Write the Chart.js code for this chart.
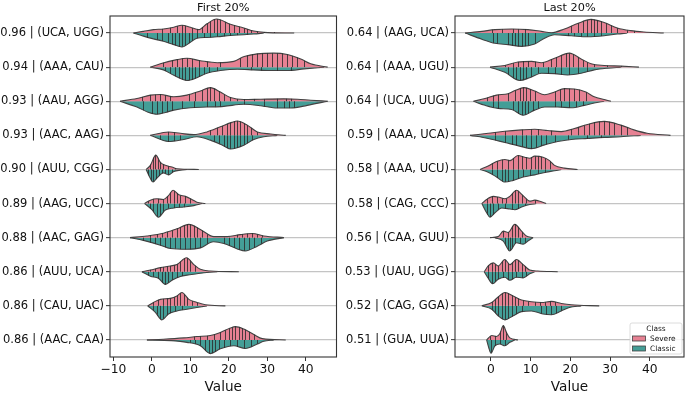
<!DOCTYPE html>
<html>
<head>
<meta charset="utf-8">
<script src="https://cdn.jsdelivr.net/npm/chart.js@4.4.0/dist/chart.umd.min.js"></script>
<style>
  html, body { margin: 0; padding: 0; background: #fff; }
  #wrap { position: relative; width: 685px; height: 394px; overflow: hidden; }
  canvas { position: absolute; top: 0; }
</style>
</head>
<body>
<div id="wrap">
  <canvas id="first" width="340" height="394" style="left:0"></canvas>
  <canvas id="last" width="345" height="394" style="left:340px"></canvas>
</div>
<script>
// row labels (top to bottom)
const firstLabels = ['0.96 | (UCA, UGG)', '0.94 | (AAA, CAU)', '0.93 | (AAU, AGG)', '0.93 | (AAC, AAG)', '0.90 | (AUU, CGG)',
  '0.89 | (AAG, UCC)', '0.88 | (AAC, GAG)', '0.86 | (AUU, UCA)', '0.86 | (CAU, UAC)', '0.86 | (AAC, CAA)'];
const lastLabels = ['0.64 | (AAG, UCA)', '0.64 | (AAA, UGU)', '0.64 | (UCA, UUG)', '0.59 | (AAA, UCA)', '0.58 | (AAA, UCU)',
  '0.58 | (CAG, CCC)', '0.56 | (CAA, GUU)', '0.53 | (UAU, UGG)', '0.52 | (CAG, GGA)', '0.51 | (GUA, UUA)'];

const firstTicks = [-10, 0, 10, 20, 30, 40];
const lastTicks = [0, 10, 20, 30, 40];

// half-violin outlines: [value, half width in row units]
const firstSevere = [
  [[-4.8,0],[-2.2,.05],[0.4,.1],[3,.12],[5.7,.17],[7.8,.23],[10,.17],[12.2,.1],[14.3,.27],[16.8,.41],[20.4,.26],[23.9,.15],[26.5,.06],[29.1,.02],[37,0]],
  [[-0.4,0],[2.2,.1],[6.5,.22],[9.1,.26],[12.6,.19],[17,.13],[21.3,.17],[24,.31],[27.4,.39],[31.7,.41],[35.2,.37],[38.7,.24],[41.3,.1],[45.7,0]],
  [[-8.3,0],[-3.9,.08],[-0.4,.18],[2.2,.2],[5.7,.13],[9.1,.18],[12.6,.3],[15.2,.4],[17.8,.27],[20.4,.11],[23.9,.05],[28.3,.06],[34.3,.07],[37.8,.06],[41.3,.03],[45.7,0]],
  [[-0.4,0],[4.3,.1],[7.4,.06],[10.9,.02],[14.3,.1],[17.8,.25],[20.8,.38],[22.2,.42],[24.8,.3],[27.4,.1],[30.9,.04],[34.8,0]],
  [[-1.5,0],[-0.4,.12],[1,.42],[2.2,.21],[3.5,.12],[5.2,.07],[6.5,.02],[12.2,0]],
  [[-1.9,0],[-0.4,.1],[1.3,.14],[3,.12],[4.3,.23],[5.5,.39],[7,.26],[8.7,.21],[10.4,.12],[11.7,.04],[13.9,0]],
  [[-5.7,0],[-1.3,.05],[3,.13],[6.5,.26],[9.6,.39],[12.6,.24],[16.1,.03],[19.6,.03],[23,.09],[26.1,.12],[29.1,.05],[34.3,0]],
  [[-2.6,0],[-0.4,.05],[2.2,.12],[4.8,.17],[6.5,.21],[9,.41],[10.9,.21],[12.6,.07],[15.2,.02],[22.6,0]],
  [[-1.1,0],[0.4,.1],[2.2,.19],[4.8,.22],[6.5,.29],[7.8,.39],[9.6,.19],[11.7,.1],[13.9,.03],[19.1,0]],
  [[-1.3,0],[3,.02],[8.3,.06],[11.7,.1],[15.2,.13],[17.8,.22],[20.4,.35],[21.7,.39],[23.9,.32],[26.5,.16],[28.7,.04],[34.8,0]]
];
const firstClassic = [
  [[-4.8,0],[-2.2,.09],[0.4,.17],[3,.24],[5.7,.34],[7.8,.41],[10,.27],[11.7,.15],[14.3,.13],[17,.11],[20.4,.07],[23.9,.05],[26.5,.03],[29.1,0]],
  [[-0.4,0],[3,.08],[5.7,.24],[9.1,.39],[11.7,.31],[14.3,.18],[17.8,.1],[22.2,.06],[26.5,.08],[30.9,.1],[35.2,.1],[39.6,.05],[44.8,0]],
  [[-8.3,0],[-3.9,.17],[-1,.32],[1.3,.38],[3.5,.33],[5.7,.26],[10,.19],[14.3,.17],[18.7,.15],[23.9,.09],[28.3,.13],[32.6,.2],[36.1,.2],[40.4,.12],[45.7,0]],
  [[-0.4,0],[4.3,.18],[8.3,.12],[11.7,.04],[15.2,.14],[18.7,.31],[20.5,.4],[23.9,.29],[26.5,.12],[29.1,.04],[32.6,0]],
  [[-1.5,0],[-0.6,.22],[0.3,.37],[1.3,.25],[3,.1],[4.3,.16],[5.7,.06],[7.4,.02],[9.1,0]],
  [[-1.9,0],[0,.18],[1.7,.4],[3.5,.19],[5.7,.13],[8.3,.1],[10.9,.06],[13,0]],
  [[-5.7,0],[-2.2,.08],[2.2,.22],[4.8,.32],[9.1,.34],[12.6,.3],[16,.12],[18.7,.17],[22.2,.33],[24.3,.39],[27.4,.25],[30,.1],[34.3,0]],
  [[-2.6,0],[-0.4,.13],[1.7,.19],[3.5,.37],[5.2,.25],[7.4,.14],[9.1,.1],[11.7,.06],[14.3,.02],[17,0]],
  [[-1.1,0],[0.9,.19],[2.6,.41],[4.3,.24],[6.5,.15],[9.1,.1],[11.7,.05],[14.3,0]],
  [[-1.3,0],[5,.02],[9.1,.07],[12.6,.17],[15.2,.4],[17.8,.26],[21.3,.17],[24.3,.25],[27.4,.12],[29.1,.04],[31.7,0]]
];
const lastSevere = [
  [[-6.5,0],[-2.3,.05],[1,.1],[5.2,.12],[9.3,.1],[12.7,.05],[15.2,.01],[18.5,.12],[21.8,.28],[25.2,.4],[28.5,.31],[31.8,.15],[35.2,.07],[38.5,.03],[43.5,0]],
  [[-0.25,0],[3.5,.05],[6.8,.15],[10.2,.17],[12.7,.13],[16,.26],[19.75,.41],[22.7,.24],[25.2,.1],[28.5,.05],[32.7,.03],[37.25,0]],
  [[-4.4,0],[-1.5,.08],[1.4,.18],[4.3,.22],[6.2,.32],[8.3,.4],[11,.3],[13.5,.19],[16,.27],[18.5,.37],[21,.36],[23.9,.27],[26,.13],[28.5,.05],[30.2,0]],
  [[-5.25,0],[-0.7,.06],[3.5,.12],[7.7,.16],[11,.18],[14.3,.14],[17.7,.11],[21,.2],[24.3,.32],[28.5,.41],[32.7,.3],[36,.16],[39.3,.06],[45.2,0]],
  [[-2.75,0],[-0.7,.1],[1.4,.23],[3.5,.29],[4.75,.26],[6.8,.41],[8.5,.36],[9.75,.33],[11,.39],[13.1,.36],[14.75,.26],[16,.12],[18.5,.04],[21.8,0]],
  [[-2.3,0],[-1.1,.12],[0.6,.21],[1.8,.19],[3.5,.14],[4.75,.21],[6.4,.39],[8.1,.23],[9.75,.07],[11,.1],[12.7,.05],[13.9,0]],
  [[-0.25,0],[1.8,.03],[3.1,.19],[4.3,.15],[6,.39],[7.7,.19],[8.9,.05],[10.6,0]],
  [[-1.7,0],[-0.7,.17],[0.6,.26],[1.8,.17],[3.5,.36],[4.75,.21],[6.4,.36],[8.1,.21],[9.75,.05],[11.8,.02],[16.8,0]],
  [[-2.3,0],[0.2,.1],[1.8,.26],[3.5,.39],[5.6,.29],[7.7,.17],[10.2,.12],[12.7,.1],[15.2,.13],[17.7,.07],[20.2,.03],[27.25,0]],
  [[-1.1,0],[0.2,.13],[1.4,.1],[2.25,.19],[3.1,.42],[3.9,.22],[4.75,.06],[6.8,0]]
];
const lastClassic = [
  [[-6.5,0],[-2.3,.18],[1,.3],[4.3,.34],[7.7,.39],[11,.32],[13.5,.15],[16,.05],[20.2,.08],[24.3,.11],[28.5,.08],[31.8,.03],[34.3,0]],
  [[-0.25,0],[3.5,.15],[7.25,.39],[9.75,.31],[12.7,.18],[16,.19],[19.3,.23],[22.7,.18],[26,.08],[29.3,.03],[32.7,0]],
  [[-4.4,0],[-1.5,.12],[1.8,.21],[5.2,.24],[8.1,.41],[11,.26],[13.5,.17],[16.8,.17],[20.2,.19],[23.5,.12],[26,.05],[28.5,0]],
  [[-5.25,0],[-0.7,.09],[3.5,.21],[7.7,.33],[10.2,.39],[13.5,.28],[16.8,.18],[20.2,.12],[24.3,.09],[28.5,.06],[32.7,.04],[37.7,0]],
  [[-2.75,0],[-0.7,.08],[1.4,.22],[3.5,.37],[5.6,.32],[8.1,.22],[11,.16],[13.9,.08],[16,.04],[17.7,0]],
  [[-2.3,0],[-1.1,.27],[-0.25,.4],[1,.27],[2.7,.13],[4.75,.16],[6,.18],[7.7,.1],[9.75,.03],[11.4,0]],
  [[1,0],[3.1,.1],[4.75,.39],[6.4,.15],[8.1,.19],[9.3,.1],[10.6,0]],
  [[-1.7,0],[-0.7,.19],[0.4,.35],[1.8,.22],[3.5,.16],[4.75,.25],[6.4,.16],[8.1,.18],[9.75,.06],[11,0]],
  [[-2.3,0],[0.2,.1],[1.8,.29],[3.5,.41],[5.6,.29],[7.7,.17],[10.2,.15],[13.1,.24],[15.2,.26],[17.7,.15],[19.75,.05],[22.7,0]],
  [[-1.1,0],[-0.5,.25],[0,.39],[1,.17],[2.25,.12],[3.5,.17],[4.75,.07],[6,0]]
];

// individual observations (stick lines)
const firstSevereSticks = [
  [2.6,4.8,6.5,7.8,8.7,10.4,11.7,13,14.3,15.2,16.1,17,17.8,19.1,20,21.3,22.6,23.9,24.8,25.7,27.4,29.1,31.7],
  [3,5.2,6.5,7.8,9.1,10.4,12.2,14.3,17.8,23,24.8,26.1,27.4,28.7,30,31.3,32.6,33.9,35.2,36.5,37.8,39.6],
  [-2.6,-0.4,0.9,2.2,3.5,4.8,9.6,11.3,13,14.3,15.2,16.1,17.4,18.7,20.4,22.2,23.9,26.5,29.1,32.6,34.8,36.1],
  [4.3,5.7,15.2,17,18.3,19.6,20.4,21.3,22.2,23,23.9,24.8,25.7,27.4],
  [-0.4,0.3,0.9,1.5,2.2,3,4.3,6.1],
  [-0.9,0.4,1.7,3,3.9,4.8,5.7,6.5,7.4,8.7,10],
  [-0.4,1.3,2.6,3.9,5.2,6.5,7.4,8.3,9.1,10,10.9,11.7,13,14.3,22.2,23.5,24.8,26.1,27.4,28.7],
  [-0.4,0.9,2.2,3,3.9,4.8,5.7,6.5,7.4,8.3,9.1,10,11.3],
  [0.4,1.7,3,3.9,4.8,5.7,6.5,7.4,8.3,9.1,10.4,11.7],
  [10.9,12.6,14.3,16.1,17.8,19.1,20,20.9,21.7,22.6,23.5,24.3,25.2,26.5]
];
const firstClassicSticks = [
  [-1.3,1.3,2.6,4.3,5.2,6.1,7,7.8,8.7,9.6,10.4,11.7,13.5,15.2,17,18.7,20.4,22.2,24.8],
  [3.5,4.8,6.1,7,7.8,8.7,9.6,10.4,11.3,12.2,13.5,14.8,17,25.7,28.3,32.6,36.1],
  [-2.2,0,1.3,2.6,3.9,5.2,7.8,10.9,14.3,16.5,17.8,23.9,29.1,32.6,34.3,35.7,37],
  [2.2,4.3,5.7,7.4,16.1,17.4,18.7,19.6,20.4,21.3,22.2,23,23.9,24.8,26.1],
  [-0.9,-0.3,0.4,1.1,1.8,2.6,3.5,4.3,5.2],
  [-0.4,0.4,1.3,2.2,3,4.3,5.7,7,8.3],
  [-2.2,-0.4,0.9,2.2,3.5,4.8,6.1,7.4,8.7,10,11.3,12.6,14.3,18.7,20,21.3,22.6,23.9,25.2,26.5,28.3],
  [-0.9,0.4,1.7,2.6,3.5,4.3,5.2,6.5,7.8],
  [0.4,1.3,2.2,3,3.9,4.8,6.1,7.8],
  [10,11.3,12.6,13.9,14.8,15.7,16.5,17.4,18.7,20.4,22.2,23.9,25.7,27.4]
];
const lastSevereSticks = [
  [0.2,2.7,5.6,6.8,8.5,20.2,21.8,23.1,24.3,25.2,26,26.8,27.7,28.9,30.2,31.8,34.3,36],
  [3.5,5.6,6.8,8.1,9.3,11,13.1,15.2,16.4,17.7,18.9,19.75,20.6,21.8,23.1,24.3,26,29.3,32.7],
  [-1.1,0.6,1.8,4.3,6,7.25,8.1,8.9,9.75,11,16,17.3,18.5,19.75,21,22.25,23.9],
  [1,3.5,7.7,10.2,11.8,15.2,20.2,21.8,23.5,24.75,26,27.25,28.5,29.75,31,32.7,34.3],
  [0.2,1.4,2.7,4.3,5.6,6.8,7.7,8.9,10.2,11,11.8,12.7,13.5,14.75],
  [-1.1,0.2,1.4,2.7,3.9,5.2,6,6.8,7.7,8.9,11],
  [3.1,4.3,5.2,6,6.8,7.7],
  [-0.7,0.2,1,1.8,2.7,3.5,4.3,5.2,6,6.8,7.7,8.5],
  [0.2,1,1.8,2.7,3.5,4.3,5.2,6,6.8,8.1,9.3,11,12.25,13.5,14.75,16],
  [-0.25,1,2.25,3.1,3.9]
];
const lastClassicSticks = [
  [0.6,1.4,4.3,5.2,6,6.8,7.7,8.5,9.3,11,19.3,21,22.7,24.3,26,27.7],
  [4.3,5.6,6.4,7.25,8.1,8.9,10.2,11.8,14.3,16,17.7,19.75,21.8,24.3],
  [0.6,1.8,5.6,6.8,7.7,8.5,9.3,10.6,11.8,16,17.7,19.75,21.4,23.1],
  [1,3.5,5.2,6.4,7.7,8.9,10.2,11.4,12.7,13.9,16,19.3,24.3,27.7],
  [0.2,1.4,2.7,3.5,4.3,5.6,6.8,8.1,9.75,11.8,13.5],
  [-1.1,-0.25,0.6,1.8,3.5,5.2,6.8,8.5],
  [3.5,4.3,4.75,5.2,6,7.25,8.5],
  [-0.7,0.2,1,1.8,3.1,4.3,5.2,6.4,7.7,8.9],
  [0.2,1,1.8,2.7,3.5,4.3,5.2,6.4,7.7,12.7,13.9,15.2,16.4,17.7],
  [0,1,2.25,3.5]
];

const SEVERE = '#e68193';
const CLASSIC = '#449e97';
const EDGE = '#424242';
const FONT = "'DejaVu Sans', sans-serif";

function minusLabel(v) {
  return v < 0 ? '\u2212' + Math.abs(v) : String(v);
}

function makePanel(id, p) {
  const datasets = [];
  p.labels.forEach((_, i) => {
    datasets.push({
      data: p.severe[i].map(([x, h]) => ({ x, y: i - h })),
      fill: { value: i },
      backgroundColor: SEVERE
    });
    datasets.push({
      data: p.classic[i].map(([x, h]) => ({ x, y: i + h })),
      fill: { value: i },
      backgroundColor: CLASSIC
    });
  });

  // stick lines only show on top of the filled halves (source-atop)
  const sticks = {
    id: 'sticks',
    afterDatasetsDraw(chart) {
      const { ctx, chartArea, scales: { x, y } } = chart;
      ctx.save();
      ctx.beginPath();
      ctx.rect(chartArea.left, chartArea.top, chartArea.width, chartArea.height);
      ctx.clip();
      ctx.globalCompositeOperation = 'source-atop';
      ctx.strokeStyle = 'rgba(45,45,45,0.85)';
      ctx.lineWidth = 1;
      p.labels.forEach((_, i) => {
        const yc = y.getPixelForValue(i);
        const yTop = y.getPixelForValue(i - 0.47);
        const yBot = y.getPixelForValue(i + 0.47);
        ctx.beginPath();
        p.severeSticks[i].forEach(v => {
          const px = Math.round(x.getPixelForValue(v)) + 0.5;
          ctx.moveTo(px, yc);
          ctx.lineTo(px, yTop);
        });
        p.classicSticks[i].forEach(v => {
          const px = Math.round(x.getPixelForValue(v)) + 0.5;
          ctx.moveTo(px, yc);
          ctx.lineTo(px, yBot);
        });
        ctx.stroke();
      });
      ctx.restore();
    }
  };

  const frame = {
    id: 'frame',
    afterDraw(chart) {
      const { ctx, chartArea: a } = chart;
      ctx.save();
      ctx.strokeStyle = '#333';
      ctx.lineWidth = 1.1;
      ctx.strokeRect(a.left, a.top, a.width, a.height);
      ctx.fillStyle = '#111';
      ctx.font = '11.3px ' + FONT;
      ctx.textAlign = 'center';
      ctx.textBaseline = 'middle';
      ctx.fillText(p.title, (a.left + a.right) / 2, 8.5);
      if (p.legend) {
        const bx = 630 - 340, by = 323, bw = 52, bh = 31;
        ctx.fillStyle = 'rgba(255,255,255,0.85)';
        ctx.strokeStyle = '#d3d3d3';
        ctx.lineWidth = 0.8;
        ctx.beginPath();
        ctx.roundRect(bx, by, bw, bh, 2);
        ctx.fill();
        ctx.stroke();
        ctx.fillStyle = '#111';
        ctx.font = '7.4px ' + FONT;
        ctx.fillText('Class', bx + bw / 2, by + 6);
        [[SEVERE, 'Severe', 336], [CLASSIC, 'Classic', 346]].forEach(([c, t, yy]) => {
          ctx.fillStyle = c;
          ctx.strokeStyle = EDGE;
          ctx.lineWidth = 0.8;
          ctx.fillRect(632.5 - 340, yy, 13, 5);
          ctx.strokeRect(632.5 - 340, yy, 13, 5);
          ctx.fillStyle = '#111';
          ctx.textAlign = 'left';
          ctx.fillText(t, 650 - 340, yy + 2.8);
        });
      }
      ctx.restore();
    }
  };

  return new Chart(document.getElementById(id), {
    type: 'line',
    data: { datasets },
    options: {
      responsive: false,
      animation: false,
      events: [],
      layout: { padding: { top: 16, right: p.padRight, left: 0, bottom: 0 } },
      plugins: { legend: { display: false }, tooltip: { enabled: false } },
      elements: {
        line: { borderColor: EDGE, borderWidth: 1.1, cubicInterpolationMode: 'monotone' },
        point: { radius: 0 }
      },
      scales: {
        x: {
          type: 'linear',
          min: p.xMin,
          max: p.xMax,
          afterBuildTicks: s => { s.ticks = p.xTicks.map(v => ({ value: v })); },
          afterFit: s => { s.height = 37; },
          border: { display: false },
          grid: { drawOnChartArea: false, drawTicks: true, tickLength: 4, tickColor: '#333', tickWidth: 1 },
          ticks: { font: { family: FONT, size: 12.3 }, color: '#111', padding: 1, maxRotation: 0, callback: minusLabel },
          title: { display: true, text: 'Value', font: { family: FONT, size: 13.6, lineHeight: 1 }, color: '#111', padding: { top: 0, bottom: 0 } }
        },
        y: {
          type: 'linear',
          reverse: true,
          min: -0.5,
          max: 9.5,
          afterBuildTicks: s => { s.ticks = p.labels.map((_, i) => ({ value: i })); },
          afterFit: s => { s.width = p.yWidth; },
          border: { display: false },
          grid: { color: '#c4c4c4', lineWidth: 1.3, drawTicks: true, tickLength: 4, tickColor: '#333', tickWidth: 1 },
          ticks: { font: { family: FONT, size: 11.5 }, color: '#111', padding: 2, callback: v => p.labels[v] ?? '' }
        }
      }
    },
    plugins: [sticks, frame]
  });
}

makePanel('first', {
  title: 'First 20%', labels: firstLabels, severe: firstSevere, classic: firstClassic,
  severeSticks: firstSevereSticks, classicSticks: firstClassicSticks,
  xTicks: firstTicks, xMin: -10.9, xMax: 48, yWidth: 110, padRight: 3.5, legend: false
});
makePanel('last', {
  title: 'Last 20%', labels: lastLabels, severe: lastSevere, classic: lastClassic,
  severeSticks: lastSevereSticks, classicSticks: lastClassicSticks,
  xTicks: lastTicks, xMin: -9.06, xMax: 48.6, yWidth: 115, padRight: 1, legend: true
});
</script>
</body>
</html>
